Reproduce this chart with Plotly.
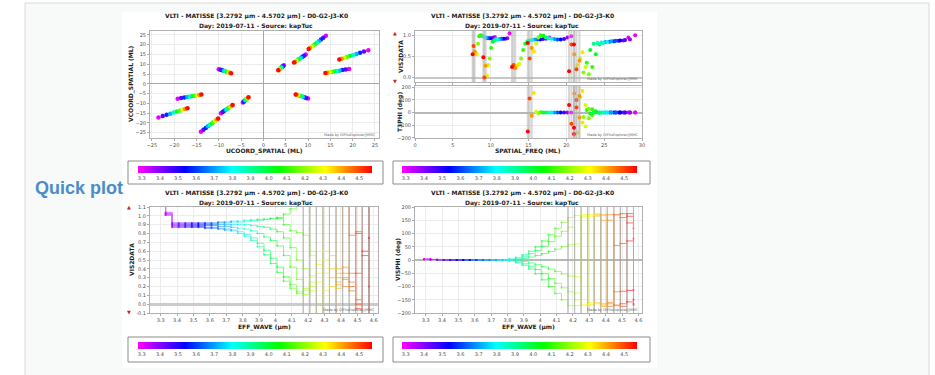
import plotly.graph_objects as go
from plotly.colors import sample_colorscale

FIG_W, FIG_H = 935, 375

# ---------------- data ----------------
title_line1 = "VLTI - MATISSE [3.2792 µm - 4.5702 µm] - D0-G2-J3-K0"
title_line2 = "Day: 2019-07-11 - Source: kapTuc"
wave_min = 3.2792
wave_max = 4.5702
colorbar_ticks = [3.3, 3.4, 3.5, 3.6, 3.7, 3.8, 3.9, 4.0, 4.1, 4.2, 4.3, 4.4, 4.5]
colorbar_labels = ["3.3", "3.4", "3.5", "3.6", "3.7", "3.8", "3.9", "4.0", "4.1", "4.2", "4.3", "4.4", "4.5"]

uv_ticks = [-25, -20, -15, -10, -5, 0, 5, 10, 15, 20, 25]
freq_ticks = [0, 5, 10, 15, 20, 25, 30]
vis2_top_ticks = [0.0, 0.5, 1.0]
t3phi_ticks = [-200, -100, 0, 100, 200]
wave_ticks = [3.3, 3.4, 3.5, 3.6, 3.7, 3.8, 3.9, 4.0, 4.1, 4.2, 4.3, 4.4, 4.5, 4.6]
vis2_ticks = [-0.1, 0.0, 0.1, 0.2, 0.3, 0.4, 0.5, 0.6, 0.7, 0.8, 0.9, 1.0, 1.1]
visphi_ticks = [-200, -150, -100, -50, 0, 50, 100, 150, 200]

# UV coverage (ML), sampled at these wavelengths (um)
uv_wave = [3.30, 3.44, 3.58, 3.72, 3.86, 4.00, 4.14, 4.28, 4.42, 4.56]
ucoord_J3K0 = [4.60, 4.41, 4.24, 4.08, 3.93, 3.80, 3.67, 3.55, 3.43, 3.33]
vcoord_J3K0 = [9.50, 9.11, 8.76, 8.43, 8.12, 7.84, 7.57, 7.32, 7.09, 6.88]
ucoord_G2J3 = [10.00, 9.59, 9.22, 8.87, 8.55, 8.25, 7.97, 7.71, 7.46, 7.24]
vcoord_G2J3 = [-7.50, -7.20, -6.91, -6.65, -6.41, -6.19, -5.98, -5.78, -5.60, -5.43]
ucoord_D0G2 = [9.50, 9.11, 8.76, 8.43, 8.12, 7.84, 7.57, 7.32, 7.09, 6.88]
vcoord_D0G2 = [15.00, 14.39, 13.83, 13.31, 12.83, 12.38, 11.95, 11.56, 11.20, 10.86]
ucoord_G2K0 = [19.20, 18.42, 17.70, 17.03, 16.42, 15.84, 15.30, 14.80, 14.33, 13.89]
vcoord_G2K0 = [7.60, 7.29, 7.00, 6.74, 6.50, 6.27, 6.06, 5.86, 5.67, 5.50]
ucoord_D0J3 = [14.00, 13.43, 12.90, 12.42, 11.97, 11.55, 11.16, 10.79, 10.45, 10.13]
vcoord_D0J3 = [24.51, 23.52, 22.60, 21.75, 20.96, 20.23, 19.54, 18.90, 18.30, 17.74]
ucoord_D0K0 = [23.50, 22.54, 21.66, 20.85, 20.09, 19.39, 18.73, 18.12, 17.54, 17.01]
vcoord_D0K0 = [17.20, 16.50, 15.85, 15.26, 14.71, 14.19, 13.71, 13.26, 12.84, 12.45]

# VIS2 / T3PHI vs spatial frequency (ML)
sf_wave = [3.30, 3.38, 3.46, 3.54, 3.62, 3.70, 3.78, 3.86, 3.94, 4.02, 4.10, 4.18, 4.26, 4.34, 4.42, 4.50, 4.57]
freq_J3K0 = [10.55, 10.30, 10.06, 9.83, 9.62, 9.41, 9.21, 9.02, 8.84, 8.66, 8.49, 8.33, 8.17, 8.02, 7.88, 7.74, 7.62]
freq_G2J3 = [12.50, 12.20, 11.92, 11.65, 11.40, 11.15, 10.91, 10.69, 10.47, 10.26, 10.06, 9.87, 9.68, 9.51, 9.33, 9.17, 9.03]
freq_D0G2 = [17.75, 17.33, 16.93, 16.55, 16.18, 15.83, 15.50, 15.17, 14.87, 14.57, 14.29, 14.01, 13.75, 13.50, 13.25, 13.02, 12.82]
freq_G2K0 = [20.65, 20.16, 19.70, 19.25, 18.82, 18.42, 18.03, 17.65, 17.30, 16.95, 16.62, 16.30, 16.00, 15.70, 15.42, 15.14, 14.91]
freq_D0J3 = [28.20, 27.53, 26.90, 26.29, 25.71, 25.15, 24.62, 24.11, 23.62, 23.15, 22.70, 22.26, 21.84, 21.44, 21.05, 20.68, 20.36]
freq_D0K0 = [29.10, 28.41, 27.76, 27.13, 26.53, 25.95, 25.40, 24.88, 24.37, 23.89, 23.42, 22.97, 22.54, 22.13, 21.73, 21.34, 21.01]

sfvis2_J3K0 = [0.96, 0.94, 0.93, 0.93, 0.93, 0.94, 0.95, 0.97, 0.99, 1.00, 0.98, 0.80, 0.55, 0.58, 0.62, 0.75, 0.55]
sfvis2_G2J3 = [1.05, 0.93, 0.92, 0.92, 0.92, 0.91, 0.90, 0.90, 0.88, 0.85, 0.70, 0.45, 0.30, 0.05, 0.28, 0.00, 0.48]
sfvis2_D0G2 = [0.95, 0.92, 0.91, 0.90, 0.90, 0.90, 0.89, 0.88, 0.86, 0.80, 0.65, 0.45, 0.32, 0.28, 0.22, 0.30, 0.25]
sfvis2_G2K0 = [0.98, 0.95, 0.91, 0.90, 0.90, 0.91, 0.92, 0.93, 0.95, 0.99, 1.00, 0.95, 0.80, 0.62, 0.70, 0.45, 0.82]
sfvis2_D0J3 = [0.95, 0.88, 0.87, 0.86, 0.85, 0.84, 0.83, 0.82, 0.80, 0.65, 0.35, 0.12, 0.45, 0.30, 0.55, 0.78, 0.15]
sfvis2_D0K0 = [1.00, 0.90, 0.89, 0.88, 0.87, 0.86, 0.84, 0.82, 0.78, 0.55, 0.25, 0.08, 0.25, 0.60, 0.40, 0.20, 0.78]
sfvis2_err = [0, 0, 0, 0, 0, 0, 0, 0, 0, 0, 0, 0, 0, 0, 2, 2, 2]

t3phi_G2J3K0 = [1, 0, 0, 0, 0, 0, 0, 0, 0, 1, 2, -3, 6, 155, -25, 110, -150]
t3phi_D0G2J3 = [0, 0, 0, 0, 0, 0, 0, 0, 1, -8, 20, -35, 120, -160, 150, -90, 60]
t3phi_D0G2K0 = [0, 0, 0, 0, 0, 0, 0, 0, 0, 5, -20, 30, -110, 170, -40, 100, -170]
t3phi_D0J3K0 = [0, 0, 0, 0, 0, 0, 0, 0, -1, 10, 25, -45, 60, -80, 130, 40, -120]
t3phi_err = [0, 0, 0, 0, 0, 0, 0, 0, 0, 0, 0, 0, 0, 0, 400, 400, 400]

# VIS2 / VISPHI vs wavelength
eff_wave = [3.29, 3.33, 3.37, 3.41, 3.45, 3.49, 3.53, 3.57, 3.61, 3.65, 3.69, 3.73, 3.77, 3.81, 3.85, 3.89, 3.93,
            3.97, 4.01, 4.05, 4.09, 4.13, 4.17, 4.21, 4.25, 4.29, 4.33, 4.37, 4.41, 4.45, 4.49, 4.53, 4.57]
vis2_J3K0 = [1.50, 1.04, 0.92, 0.92, 0.92, 0.92, 0.92, 0.92, 0.92, 0.93, 0.93, 0.94, 0.94, 0.95, 0.95, 0.96, 0.96,
             0.97, 0.98, 1.02, 1.08, 1.30, 1.35, 0.55, -0.30, 1.40, 0.30, 0.25, 1.40, 0.78, 0.82, -0.30, 1.40]
vis2_G2J3 = [1.50, 1.03, 0.91, 0.91, 0.91, 0.91, 0.91, 0.91, 0.91, 0.92, 0.92, 0.93, 0.93, 0.94, 0.95, 0.95, 0.96,
             0.97, 0.97, 0.90, 0.83, 0.81, 0.78, 0.60, 0.45, 0.35, 1.30, 0.22, 0.28, 0.35, 0.05, -0.30, 1.30]
vis2_D0G2 = [1.50, 1.02, 0.90, 0.90, 0.90, 0.90, 0.90, 0.90, 0.90, 0.90, 0.90, 0.90, 0.90, 0.90, 0.89, 0.88, 0.87,
             0.85, 0.82, 0.75, 0.64, 0.50, 0.40, 0.32, 0.25, -0.30, 0.40, 0.30, 0.20, 0.15, 0.80, 0.55, -0.30]
vis2_G2K0 = [1.50, 1.02, 0.89, 0.89, 0.89, 0.89, 0.89, 0.89, 0.89, 0.88, 0.88, 0.87, 0.86, 0.85, 0.83, 0.80, 0.76,
             0.72, 0.66, 0.55, 0.42, 0.28, 0.18, 0.15, 0.35, 0.50, -0.30, 0.35, 0.42, 0.25, 0.00, 1.30, 0.20]
vis2_D0J3 = [1.50, 1.01, 0.88, 0.88, 0.88, 0.88, 0.88, 0.87, 0.87, 0.86, 0.85, 0.84, 0.82, 0.79, 0.75, 0.69, 0.61,
             0.52, 0.42, 0.31, 0.22, 0.14, 0.11, 0.20, 0.45, 0.15, 0.55, 0.18, 0.30, 0.20, -0.05, -0.30, 1.30]
vis2_D0K0 = [1.50, 1.01, 0.87, 0.87, 0.87, 0.87, 0.87, 0.86, 0.86, 0.85, 0.84, 0.83, 0.80, 0.77, 0.72, 0.65, 0.56,
             0.46, 0.36, 0.26, 0.18, 0.12, 0.16, 0.25, -0.30, 0.60, 0.20, 0.40, 0.35, 1.30, 0.35, 0.60, 0.75]
vis2_err = [0, 0, 0, 0, 0, 0, 0, 0, 0, 0, 0, 0, 0, 0, 0, 0, 0,
            0, 0, 0, 0, 0, 2, 2, 2, 2, 2, 2, 2, 2, 2, 2, 2]

visphi_D0J3 = [3, 2, 1, 0, 0, 0, 0, 0, 0, 0, 0, 0, 1, 4, 10, 20, 33,
               50, 72, 95, 120, 142, 160, 168, -170, 172, -165, 170, -175, 172, 160, 140, 120]
visphi_D0K0 = [3, 2, 1, 0, 0, 0, 0, 0, 0, 0, 0, 0, 1, 3, 7, 14, 24,
               36, 52, 70, 90, 108, 124, -150, 160, -170, 165, 150, -160, 170, -175, 175, -170]
visphi_J3K0 = [3, 2, 1, 0, 0, 0, 0, 0, 0, 0, 0, 0, 0, 1, 3, 6, 11,
               17, 24, 32, 41, 50, 57, 60, 165, -160, 175, -170, 150, 55, 62, 72, 80]
visphi_G2J3 = [3, 2, 1, 0, 0, 0, 0, 0, 0, 0, 0, 0, 0, -1, -3, -6, -11,
               -18, -26, -34, -43, -52, -60, -62, -170, 165, -160, 170, -165, -120, -118, -115, -112]
visphi_D0G2 = [3, 2, 1, 0, 0, 0, 0, 0, 0, 0, 0, 0, -1, -3, -7, -14, -24,
               -36, -52, -70, -88, -105, -120, -125, 170, -172, 168, -175, 172, -170, 175, 165, -165]
visphi_G2K0 = [3, 2, 1, 0, 0, 0, 0, 0, 0, 0, 0, 0, -1, -4, -10, -20, -34,
               -52, -75, -100, -126, -150, -172, -172, 170, -168, 172, -165, -175, -172, -165, -158, -150]
visphi_err = [0, 0, 0, 0, 0, 0, 0, 0, 0, 0, 0, 0, 0, 0, 0, 0, 0,
              0, 0, 0, 0, 0, 400, 400, 400, 400, 400, 400, 400, 400, 400, 400, 400]

# ---------------- helpers ----------------
FONT = "DejaVu Sans"
TICKCOL = "#505050"
GRID = "#ececec"
AXLINE = "#b0b0b0"


def px(x):
    return x / FIG_W


def py(y):
    return 1 - y / FIG_H


CSCALE = [[0.0, "rgb(255,0,255)"], [0.2, "rgb(0,0,255)"], [0.4, "rgb(0,255,255)"],
          [0.6, "rgb(0,255,0)"], [0.8, "rgb(255,255,0)"], [1.0, "rgb(255,0,0)"]]


def wave_color(w):
    t = (w - wave_min) / (wave_max - wave_min)
    t = min(max(t, 0.0), 1.0)
    return sample_colorscale(CSCALE, [t])[0]


def colorbar_cfg(x0, x1, ytop):
    return dict(orientation="h", x=px(x0), xanchor="left", y=py(ytop), yanchor="top",
                lenmode="pixels", len=x1 - x0, thicknessmode="pixels", thickness=7,
                xpad=0, ypad=0, outlinewidth=0, tickvals=colorbar_ticks, ticktext=colorbar_labels,
                ticks="", tickfont=dict(family=FONT, size=5, color=TICKCOL))


def coloraxis(x0, x1, ytop):
    return dict(colorscale=CSCALE, cmin=wave_min, cmax=wave_max, colorbar=colorbar_cfg(x0, x1, ytop))


def axis(domain, rng, tickvals, ticktext=None, anchor=None, zeroline=False, showlabels=True,
         zlcolor="#b8b8b8", zlwidth=1.2):
    d = dict(domain=domain, range=rng, tickmode="array", tickvals=tickvals, showline=True, mirror=True,
             linecolor=AXLINE, linewidth=1, showgrid=True, gridcolor=GRID, gridwidth=1,
             zeroline=zeroline, zerolinecolor=zlcolor, zerolinewidth=zlwidth,
             ticks="outside", ticklen=2, tickcolor="#aaaaaa", tickwidth=1,
             showticklabels=showlabels, tickfont=dict(family=FONT, size=5, color=TICKCOL),
             anchor=anchor, fixedrange=True)
    if ticktext is not None:
        d["ticktext"] = ticktext
    return d


fig = go.Figure()

# ---- UV coverage ----
uv_sets = [(ucoord_J3K0, vcoord_J3K0), (ucoord_G2J3, vcoord_G2J3), (ucoord_D0G2, vcoord_D0G2),
           (ucoord_G2K0, vcoord_G2K0), (ucoord_D0J3, vcoord_D0J3), (ucoord_D0K0, vcoord_D0K0)]
for u, v in uv_sets:
    for sign in (1, -1):
        fig.add_trace(go.Scatter(x=[sign * a for a in u], y=[sign * b for b in v], mode="markers",
                                 marker=dict(size=4.5, color=uv_wave, coloraxis="coloraxis"),
                                 xaxis="x", yaxis="y", showlegend=False, hoverinfo="skip"))

# ---- VIS2 vs spatial freq ----
sf_sets = [(freq_J3K0, sfvis2_J3K0), (freq_G2J3, sfvis2_G2J3), (freq_D0G2, sfvis2_D0G2),
           (freq_G2K0, sfvis2_G2K0), (freq_D0J3, sfvis2_D0J3), (freq_D0K0, sfvis2_D0K0)]
for f, v in sf_sets:
    fig.add_trace(go.Scatter(x=f, y=v, mode="markers",
                             marker=dict(size=4, color=sf_wave, coloraxis="coloraxis2"),
                             error_y=dict(type="data", array=sfvis2_err, color="rgba(175,175,175,0.5)",
                                          thickness=2, width=0),
                             xaxis="x2", yaxis="y2", showlegend=False, hoverinfo="skip"))

# ---- T3PHI vs spatial freq ----
t3_sets = [(freq_G2K0, t3phi_G2J3K0), (freq_D0J3, t3phi_D0G2J3), (freq_D0K0, t3phi_D0G2K0),
           (freq_D0K0, t3phi_D0J3K0)]
for f, v in t3_sets:
    fig.add_trace(go.Scatter(x=f, y=v, mode="markers",
                             marker=dict(size=4, color=sf_wave, coloraxis="coloraxis2"),
                             error_y=dict(type="data", array=t3phi_err, color="rgba(175,175,175,0.5)",
                                          thickness=2, width=0),
                             xaxis="x3", yaxis="y3", showlegend=False, hoverinfo="skip"))


def spectral(curves, err, xa, ya, cax):
    n = len(eff_wave)
    for i in range(n - 1):
        xs, ys = [], []
        for c in curves:
            xs += [eff_wave[i], eff_wave[i + 1], eff_wave[i + 1], None]
            ys += [c[i], c[i], c[i + 1], None]
        fig.add_trace(go.Scatter(x=xs, y=ys, mode="lines", opacity=0.55,
                                 line=dict(color=wave_color(eff_wave[i + 1]), width=1),
                                 xaxis=xa, yaxis=ya, showlegend=False, hoverinfo="skip"))
    for c in curves:
        fig.add_trace(go.Scatter(x=eff_wave, y=c, mode="markers", opacity=0.6,
                                 marker=dict(size=2, color=eff_wave, coloraxis=cax),
                                 error_y=dict(type="data", array=err, color="rgba(175,175,175,0.45)",
                                              thickness=1, width=0),
                                 xaxis=xa, yaxis=ya, showlegend=False, hoverinfo="skip"))


spectral([vis2_J3K0, vis2_G2J3, vis2_D0G2, vis2_G2K0, vis2_D0J3, vis2_D0K0], vis2_err, "x4", "y4", "coloraxis3")
spectral([visphi_D0J3, visphi_D0K0, visphi_J3K0, visphi_G2J3, visphi_D0G2, visphi_G2K0], visphi_err,
         "x5", "y5", "coloraxis4")

# ---------------- layout ----------------
shapes = [
    dict(type="rect", xref="paper", yref="paper", x0=px(25), x1=px(929), y0=py(3), y1=py(400),
         line=dict(color="#dadada", width=1), fillcolor="#f8f9f9", layer="below"),
    dict(type="rect", xref="paper", yref="paper", x0=px(122), x1=px(657), y0=py(12), y1=py(368),
         line=dict(width=0), fillcolor="white", layer="below"),
]
for (bx0, bx1, by0, by1) in [(128, 383, 161, 184), (393, 650, 161, 184), (128, 383, 337, 362), (393, 650, 337, 362)]:
    shapes.append(dict(type="rect", xref="paper", yref="paper", x0=px(bx0), x1=px(bx1), y0=py(by0), y1=py(by1),
                       line=dict(color="#8c8c8c", width=1), fillcolor="white", layer="below"))

ann = []


def text(x, y, s, size, color="#222", angle=0, xanchor="center", bold=False, family=FONT):
    ann.append(dict(xref="paper", yref="paper", x=px(x), y=py(y), text=("<b>%s</b>" % s) if bold else s,
                    showarrow=False, xanchor=xanchor, yanchor="middle", textangle=angle,
                    font=dict(family=family, size=size, color=color)))


for cx, ty in [(256, 16), (522, 16), (256, 193), (522, 193)]:
    text(cx, ty, title_line1, 6, bold=True)
    text(cx, ty + 9.5, title_line2, 6, bold=True)

text(264, 151, "UCOORD_SPATIAL (ML)", 6, bold=True)
text(528, 151, "SPATIAL_FREQ (ML)", 6, bold=True)
text(264, 327, "EFF_WAVE (µm)", 6, bold=True)
text(528, 327, "EFF_WAVE (µm)", 6, bold=True)
text(131, 84, "VCOORD_SPATIAL (ML)", 6, angle=-90, bold=True)
text(400, 57, "VIS2DATA", 6, angle=-90, bold=True)
text(400, 112, "T3PHI (deg)", 6, angle=-90, bold=True)
text(131, 260, "VIS2DATA", 6, angle=-90, bold=True)
text(398, 260, "VISPHI (deg)", 6, angle=-90, bold=True)

for (x, y) in [(378, 135), (641, 79), (641, 135), (377, 310), (641, 310)]:
    text(x, y, "Made by OIFitsExplorer/JMMC", 3.5, color="#666", xanchor="right")

text(395, 33, "▲", 5, color="#d02020")
text(395, 81, "▼", 5, color="#d02020")
text(129, 207, "▲", 5, color="#d02020")
text(129, 312, "▼", 5, color="#d02020")

text(79, 188, "Quick plot", 18, color="#4a8cc8", bold=True, family="Liberation Sans")

fig.update_layout(
    width=FIG_W, height=FIG_H,
    margin=dict(l=0, r=0, t=0, b=0, pad=0, autoexpand=False),
    paper_bgcolor="white", plot_bgcolor="white",
    showlegend=False,
    xaxis=axis([px(150), px(379)], [-25.4, 25.9], uv_ticks, anchor="y", zeroline=True, zlcolor="#a8a8a8", zlwidth=1),
    yaxis=axis([py(138), py(31)], [-27.7, 27.0], uv_ticks, anchor="x", zeroline=True, zlcolor="#a8a8a8", zlwidth=1),
    xaxis2=axis([px(415), px(642)], [0, 30], freq_ticks, anchor="y2", showlabels=False),
    yaxis2=axis([py(82), py(31)], [-0.104, 1.102], vis2_top_ticks, ["0.0", "0.5", "1.0"], anchor="x2",
                zeroline=True, zlcolor="#c8c8c8", zlwidth=2),
    xaxis3=axis([px(415), px(642)], [0, 30], freq_ticks, anchor="y3"),
    yaxis3=axis([py(138), py(86)], [-202, 210], t3phi_ticks, anchor="x3", zeroline=True,
                zlcolor="#b8b8b8", zlwidth=1.5),
    xaxis4=axis([px(150), px(378)], [3.235, 4.626], wave_ticks, anchor="y4"),
    yaxis4=axis([py(313), py(207)], [-0.1, 1.1], vis2_ticks, ["%.1f" % t for t in vis2_ticks], anchor="x4",
                zeroline=True, zlcolor="#cccccc", zlwidth=2.5),
    xaxis5=axis([px(415), px(642)], [3.235, 4.622], wave_ticks, anchor="y5"),
    yaxis5=axis([py(313), py(207)], [-200, 200], visphi_ticks, anchor="x5", zeroline=True,
                zlcolor="#b8b8b8", zlwidth=1.5),
    coloraxis=coloraxis(138, 372, 166),
    coloraxis2=coloraxis(402, 637, 166),
    coloraxis3=coloraxis(138, 372, 342),
    coloraxis4=coloraxis(402, 637, 342),
    shapes=shapes,
    annotations=ann,
)

fig.write_html("out.html")
